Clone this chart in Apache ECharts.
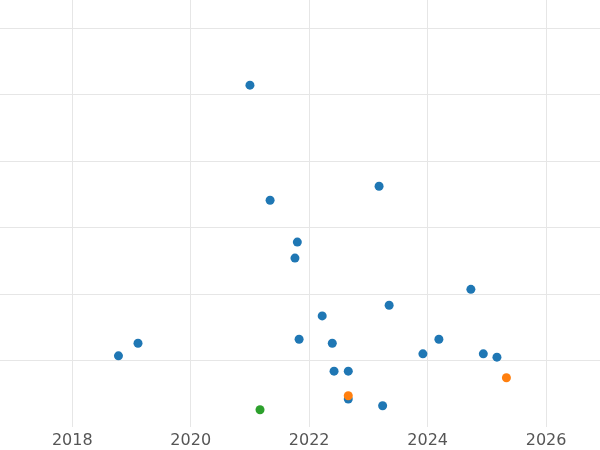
<!DOCTYPE html>
<html>
<head>
<meta charset="utf-8">
<script src="https://cdn.jsdelivr.net/npm/echarts@6/dist/echarts.min.js"></script>
<style>html,body{margin:0;padding:0;background:#fff}#chart{width:600px;height:450px}</style>
</head>
<body>
<div id="chart"></div>
<script>
var blueX = [2021.00, 2021.34, 2023.18, 2021.80, 2021.76, 2024.73, 2023.35, 2022.22, 2021.83, 2022.39,
             2024.19, 2019.11, 2018.78, 2023.92, 2024.94, 2025.17, 2022.42, 2022.66, 2022.66, 2023.24];
var blueY = [5.14, 3.41, 3.62, 2.78, 2.54, 2.07, 1.83, 1.67, 1.32, 1.26,
             1.32, 1.26, 1.07, 1.10, 1.10, 1.05, 0.84, 0.84, 0.42, 0.32];
var orangeX = [2022.66, 2025.33];
var orangeY = [0.47, 0.74];
var greenX = [2021.17];
var greenY = [0.26];
var xTicks = [2018, 2020, 2022, 2024, 2026];
var yTicks = [1, 2, 3, 4, 5, 6];

function pairs(xs, ys) { return xs.map(function (x, i) { return [x, ys[i]]; }); }

var myChart = echarts.init(document.getElementById('chart'));
myChart.setOption({
    animation: false,
    grid: { left: 0, right: 0, top: 0, bottom: 23 },
    xAxis: {
        type: 'value', min: 2016.78, max: 2026.91,
        axisLine: { show: false },
        axisTick: { show: false, customValues: xTicks },
        axisLabel: { customValues: xTicks, color: '#555', fontSize: 16, fontFamily: 'DejaVu Sans', margin: 6,
                     formatter: function (v) { return String(v); } },
        splitLine: { show: true, lineStyle: { color: '#e6e6e6', width: 1 } }
    },
    yAxis: {
        type: 'value', min: 0, max: 6.42,
        axisLine: { show: false },
        axisTick: { show: false, customValues: yTicks },
        axisLabel: { show: false, customValues: yTicks },
        splitLine: { show: true, lineStyle: { color: '#e6e6e6', width: 1 } }
    },
    series: [
        { type: 'scatter', symbolSize: 9, itemStyle: { color: '#1f77b4', opacity: 1 }, data: pairs(blueX, blueY) },
        { type: 'scatter', symbolSize: 9, itemStyle: { color: '#ff7f0e', opacity: 1 }, data: pairs(orangeX, orangeY) },
        { type: 'scatter', symbolSize: 9, itemStyle: { color: '#2ca02c', opacity: 1 }, data: pairs(greenX, greenY) }
    ]
});
</script>
</body>
</html>
